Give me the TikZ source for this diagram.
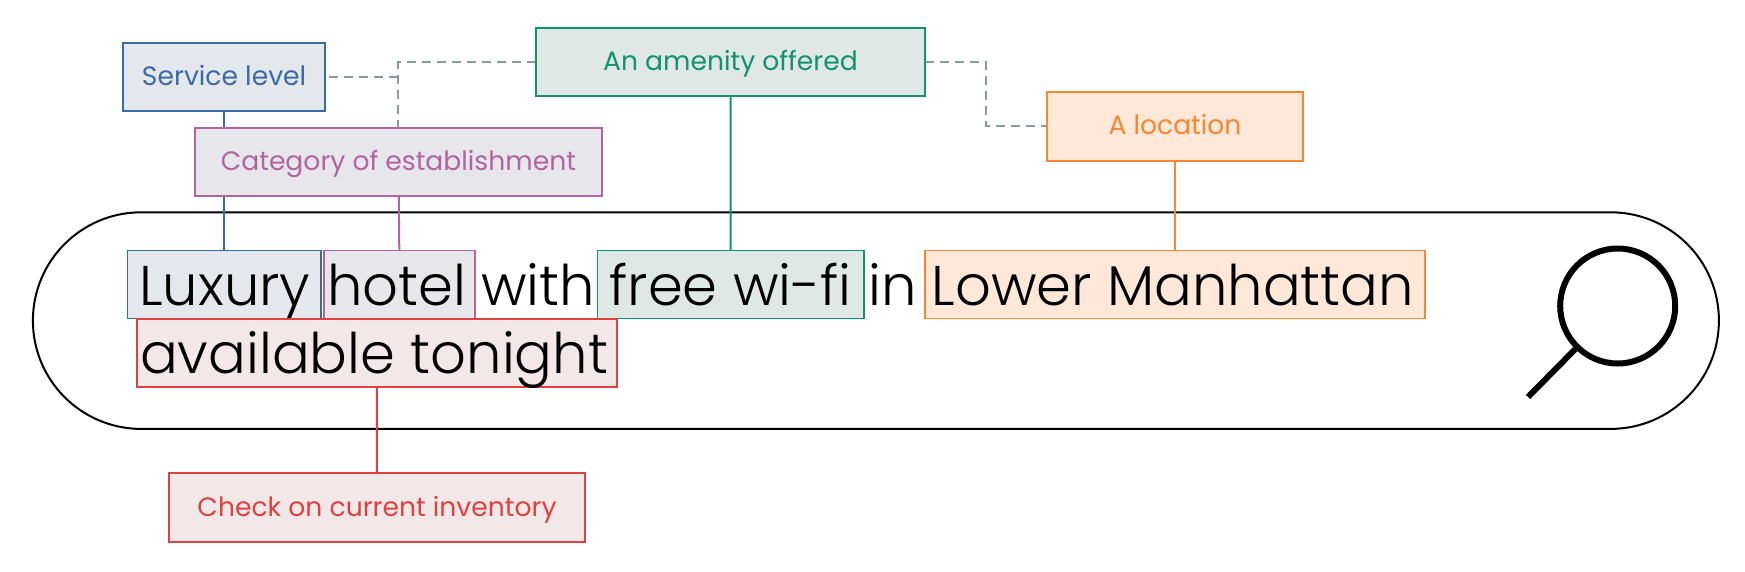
\documentclass[tikz,border=0pt]{standalone}
\usepackage{fontspec}
\setmainfont{Poppins}
\newfontfamily\lightfont{Poppins Light}
\usetikzlibrary{shapes.misc,backgrounds}
\definecolor{cblue}{HTML}{3A6BA5}
\definecolor{fblue}{HTML}{E4E7EC}
\definecolor{cpurple}{HTML}{B0659E}
\definecolor{fpurple}{HTML}{E7E6EB}
\definecolor{cgreen}{HTML}{12926F}
\definecolor{fgreen}{HTML}{DFE8E5}
\definecolor{corange}{HTML}{F58634}
\definecolor{forange}{HTML}{FFE8D8}
\definecolor{cred}{HTML}{DC4242}
\definecolor{fred}{HTML}{F3E8E8}
\definecolor{cdash}{HTML}{8A98A3}
\tikzset{
  boxbase/.style={draw,line width=1.95pt,inner sep=0pt,outer sep=0pt,align=center},
  label/.style={boxbase,font=\fontsize{26.6}{30}\selectfont,text height=18.5pt,text depth=1.5pt,minimum height=68.4pt},
  word/.style={boxbase,text=black,font=\lightfont\fontsize{56}{60}\selectfont,text height=45pt,text depth=4pt,minimum height=68pt},
  plainword/.style={text=black,font=\lightfont\fontsize{56}{60}\selectfont,inner sep=0pt,anchor=base},
  sblue/.style={draw=cblue,fill=fblue},
  spurple/.style={draw=cpurple,fill=fpurple},
  sgreen/.style={draw=cgreen,fill=fgreen},
  sorange/.style={draw=corange,fill=forange},
  sred/.style={draw=cred,fill=fred},
  link/.style={line width=2pt},
  dashlink/.style={draw=cdash,line width=2pt,dash pattern=on 9pt off 6pt},
}
\begin{document}
\begin{tikzpicture}[x=1pt,y=-1pt]
\useasboundingbox (0,0) rectangle (1745,572);
% labels
\node[label,sblue,text=cblue,minimum width=201.8pt] (svc) at (224.1,76.85) {Service level};
\node[label,spurple,text=cpurple,minimum width=406.8pt] (cat) at (398.4,161.85) {Category of establishment};
\node[label,sgreen,text=cgreen,minimum width=389pt] (amen) at (730.5,62.2) {An amenity offered};
\node[label,sorange,text=corange,minimum width=256pt] (loc) at (1175,126.5) {A location};
\node[label,sred,text=cred,minimum width=416.7pt] (chk) at (377,507.5) {Check on current inventory};
% words
\node[word,sblue,minimum width=193.2pt] (lux) at (224.1,284.5) {\kern1.4pt Luxury};
\node[word,spurple,minimum width=150.7pt] (hot) at (399.65,284.5) {hotel\kern5.6pt};
\node[plainword] (wth) at (538.2,305) {with};
\node[word,sgreen,minimum width=266.2pt] (fre) at (730.6,284.5) {free wi-fi};
\node[plainword] (inw) at (892.5,305) {in};
\node[word,sorange,minimum width=500.5pt] (low) at (1175,284.5) {Lower Manhattan\kern4.4pt};
\node[word,sred,minimum width=480.2pt] (ava) at (376.9,353.15) {available tonight\kern5.6pt};
% magnifier
\node[circle,draw=black,line width=6pt,minimum size=115pt,inner sep=0pt] (lens) at (1617.7,306) {};
\coordinate (hend) at (1528,397);
\draw[line width=6pt] (lens) -- (hend);
\coordinate (bend) at (986,62.2);
\begin{scope}[on background layer]
\node[rounded rectangle,draw=black,line width=2pt,minimum width=1686pt,minimum height=216.6pt,inner sep=0pt] (bar) at (875.9,320.6) {};
\draw[link,cblue] (svc) -- (lux);
\draw[link,cpurple] (cat) -- (hot);
\draw[link,cgreen] (amen) -- (fre);
\draw[link,corange] (loc) -- (low);
\draw[link,cred] (ava) -- (chk);
\draw[dashlink,shorten <=3.5pt] (svc.east) -- (svc.east -| cat.north);
\draw[dashlink] (amen.west) -| (cat.north);
\draw[dashlink] (amen.east) -- (bend) |- (loc.west);
\end{scope}
\end{tikzpicture}
\end{document}
